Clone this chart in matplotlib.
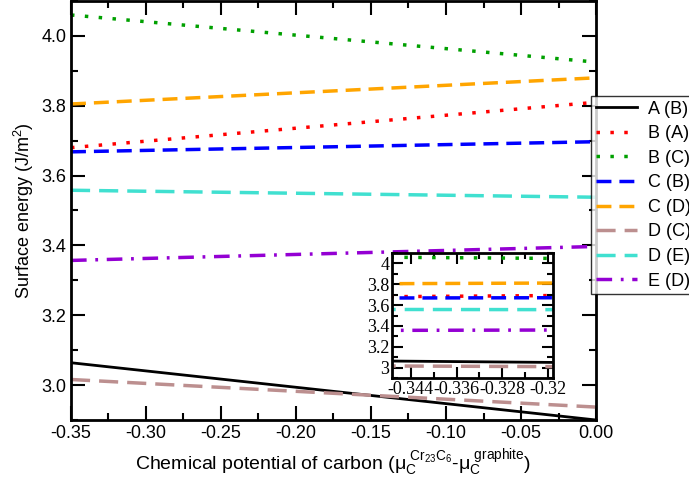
import matplotlib
matplotlib.use("Agg")
import matplotlib.pyplot as plt
from matplotlib.ticker import MultipleLocator, FormatStrFormatter

plt.rcParams['font.family'] = ['Liberation Sans', 'DejaVu Sans']
plt.rcParams['mathtext.default'] = 'regular'

# chemical potential end points
mu = [-0.35, 0.0]
labels = ["A (B)", "B (A)", "B (C)", "C (B)", "C (D)", "D (C)", "D (E)", "E (D)"]
a_b = [3.064, 2.900]
b_a = [3.680, 3.810]
b_c = [4.060, 3.925]
c_b = [3.668, 3.697]
c_d = [3.805, 3.880]
d_c = [3.016, 2.937]
d_e = [3.558, 3.538]
e_d = [3.357, 3.397]
series = [a_b, b_a, b_c, c_b, c_d, d_c, d_e, e_d]

colors = ["black", "red", "#00a000", "blue", "orange", "rosybrown", "turquoise", "darkviolet"]
styles = ["-", (0, (1, 3)), (0, (1, 3)), (0, (4.3, 2.3)), (0, (4.3, 2.3)),
          (0, (5.5, 2.6)), (0, (5.5, 2.6)), (0, (4.5, 2.5, 0.8, 2.5))]
widths = [2.0, 2.5, 2.5, 2.5, 2.5, 2.5, 2.5, 2.5]

fig = plt.figure(figsize=(6.89, 4.83), dpi=100)
ax = fig.add_axes([71/689, 1 - 420/483, 525/689, 419/483])

for y, lab, c, ls, lw in zip(series, labels, colors, styles, widths):
    ax.plot(mu, y, color=c, linestyle=ls, linewidth=lw, label=lab)

ax.set_xlim(-0.35, 0.0)
ax.set_ylim(2.9, 4.1)
ax.xaxis.set_major_locator(MultipleLocator(0.05))
ax.xaxis.set_minor_locator(MultipleLocator(0.025))
ax.yaxis.set_major_locator(MultipleLocator(0.2))
ax.yaxis.set_minor_locator(MultipleLocator(0.1))
ax.xaxis.set_major_formatter(FormatStrFormatter('%.2f'))
ax.yaxis.set_major_formatter(FormatStrFormatter('%.1f'))
ax.tick_params(which='both', direction='in', top=True, right=True, labelsize=13, width=1.5)
ax.tick_params(which='major', length=10)
ax.tick_params(which='minor', length=5)
for s in ax.spines.values():
    s.set_linewidth(2)
ax.set_xlabel(r'Chemical potential of carbon ($\mu_C^{\ Cr_{23}C_6}$-$\mu_C^{\ graphite}$)', fontsize=14)
ax.set_ylabel(r'Surface energy (J/m$^2$)', fontsize=13)

fig.legend(loc='upper left', bbox_to_anchor=(591/689, 1 - 96/483), fontsize=13,
           frameon=True, fancybox=False, edgecolor='black', handlelength=2.3,
           handletextpad=0.6, borderpad=0.25, labelspacing=0.42, borderaxespad=0)

# inset
ins = fig.add_axes([392/689, 1 - 378/483, 161/689, 125/483])
for y, c, ls, lw in zip(series, colors, styles, widths):
    ins.plot(mu, y, color=c, linestyle=ls, linewidth=lw)
ins.set_xlim(-0.3473, -0.3191)
ins.set_ylim(2.9, 4.1)
ins.set_xticks([-0.344, -0.336, -0.328, -0.32])
ins.set_xticklabels(["-0.344", "-0.336", "-0.328", "-0.32"])
ins.xaxis.set_minor_locator(MultipleLocator(0.004))
ins.set_yticks([3, 3.2, 3.4, 3.6, 3.8, 4])
ins.set_yticklabels(["3", "3.2", "3.4", "3.6", "3.8", "4"])
ins.yaxis.set_minor_locator(MultipleLocator(0.1))
ins.tick_params(which='both', direction='in', top=True, right=True, labelsize=13, width=1.5, pad=2)
ins.tick_params(which='major', length=8)
ins.tick_params(which='minor', length=4)
for t in ins.get_xticklabels() + ins.get_yticklabels():
    t.set_family('Liberation Serif')
for s in ins.spines.values():
    s.set_linewidth(2)

fig.savefig("out.png", dpi=100)
